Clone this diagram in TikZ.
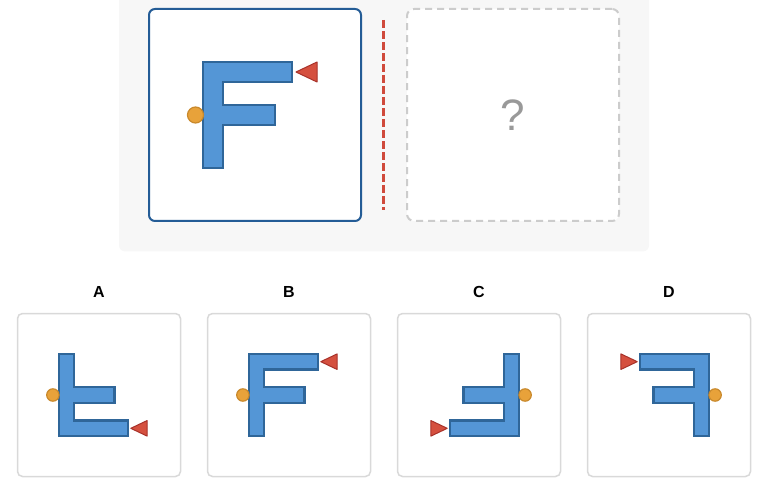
\documentclass[tikz,border=0pt]{standalone}
\usepackage{fontspec}
\setmainfont{Liberation Sans}
\usetikzlibrary{positioning}

\definecolor{panelgray}{HTML}{F7F7F7}
\definecolor{frameblue}{HTML}{245C96}
\definecolor{askgray}{HTML}{CCCCCC}
\definecolor{qgray}{HTML}{999999}
\definecolor{optgray}{HTML}{D9D9D9}
\definecolor{sepred}{HTML}{D04A3C}
\definecolor{barfill}{HTML}{5496D6}
\definecolor{barline}{HTML}{2F6699}
\definecolor{dotfill}{HTML}{E8A23A}
\definecolor{dotline}{HTML}{C9892C}
\definecolor{tipfill}{HTML}{D5503F}
\definecolor{tipline}{HTML}{A8322A}

\tikzset{
  fshape/.pic={
    \draw[fbar] (-52,-53) -- (37,-53) -- (37,-33) -- (-32,-33) -- (-32,-10) -- (20,-10)
      -- (20,10) -- (-32,10) -- (-32,53) -- (-52,53) -- cycle;
    \draw[dot] (-59.5,0) circle[radius=8pt];
    \draw[pointer] (41,-43) -- (62,-53) -- (62,-33) -- cycle;
  }
}

\begin{document}
\begin{tikzpicture}[
  x=1pt, y=-1pt,
  node distance=27pt,
  mainbox/.style={rectangle, rounded corners=6pt, minimum size=212pt, draw=frameblue,
    line width=2pt, fill=white, outer sep=0pt},
  askbox/.style={rectangle, rounded corners=7pt, minimum size=212pt, draw=askgray,
    line width=2pt, dash pattern=on 7pt off 5pt, fill=white, text=qgray,
    font=\fontsize{44}{48}\selectfont, outer sep=0pt},
  optbox/.style={rectangle, rounded corners=5pt, minimum size=163pt, draw=optgray,
    line width=1.5pt, fill=white, outer sep=0pt},
  optlabel/.style={inner sep=0pt, font=\fontsize{16}{18}\selectfont\bfseries},
  sepline/.style={draw=sepred, line width=3pt, dash pattern=on 8pt off 3pt},
  fbar/.style={fill=barfill, draw=barline, line join=miter},
  dot/.style={fill=dotfill, draw=dotline, line width=1.2pt},
  pointer/.style={fill=tipfill, draw=tipline, line width=1pt, line join=round},
  optfig/.style={scale=.775, line width=2.2pt}
]
\useasboundingbox (0,0) rectangle (768,486);
\fill[panelgray, rounded corners=6pt] (119,-10) rectangle (649,251.5);

% question row
\node (orig) [mainbox] at (255,115) {};
\node (ask) [askbox, right=46pt of orig] {?};
\draw [sepline] (383.5,20) -- (383.5,210);
\pic [line width=2.8pt] at (orig) {fshape};

% answer row
\node (optA) [optbox] at (99,395) {};
\node (optB) [optbox, right=of optA] {};
\node (optC) [optbox, right=of optB] {};
\node (optD) [optbox, right=of optC] {};

\node (labA) [optlabel, above=16pt of optA] {A};
\node (labB) [optlabel, above=16pt of optB] {B};
\node (labC) [optlabel, above=16pt of optC] {C};
\node (labD) [optlabel, above=16pt of optD] {D};

\pic [optfig, yscale=-1] at (optA) {fshape};
\pic [optfig] at (optB) {fshape};
\pic [optfig, rotate=180] at (optC) {fshape};
\pic [optfig, xscale=-1] at (optD) {fshape};

\end{tikzpicture}
\end{document}
